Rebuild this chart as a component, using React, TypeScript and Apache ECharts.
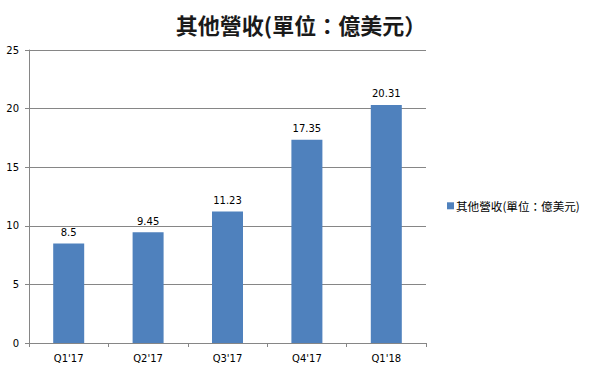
import React, { useEffect, useRef } from "react";
import * as echarts from "echarts";

const categories = ["Q1'17", "Q2'17", "Q3'17", "Q4'17", "Q1'18"];
const values = [8.5, 9.45, 11.23, 17.35, 20.31];
const seriesName = "其他營收(單位：億美元)";
const titleText = "其他營收(單位：億美元）";

export default function App() {
  const ref = useRef<HTMLDivElement>(null);
  useEffect(() => {
    if (!ref.current) return;
    const chart = echarts.init(ref.current, null, { renderer: "svg" });
    chart.setOption({
      animation: false,
      backgroundColor: "#ffffff",
      title: {
        text: titleText,
        left: 296,
        textAlign: "center",
        top: 8,
        textStyle: {
          fontSize: 22,
          fontWeight: "bold",
          color: "#1a1a1a",
          fontFamily: "Noto Sans CJK TC",
        },
      },
      legend: {
        data: [seriesName],
        left: 442,
        top: 195,
        itemWidth: 7,
        itemHeight: 7,
        itemGap: 2,
        icon: "rect",
        textStyle: {
          fontSize: 11.6,
          color: "#000",
          fontFamily: "Noto Sans CJK TC",
          padding: [0, 0, 0, -3],
        },
      },
      grid: { left: 29, right: 174, top: 50, bottom: 31, containLabel: false },
      xAxis: {
        type: "category",
        data: categories,
        axisLine: { show: true, lineStyle: { color: "#868686" } },
        axisTick: { show: true, alignWithLabel: false, length: 4, lineStyle: { color: "#868686" } },
        axisLabel: {
          color: "#000",
          fontSize: 10,
          fontFamily: "DejaVu Sans",
          margin: 10,
        },
      },
      yAxis: {
        type: "value",
        min: 0,
        max: 25,
        interval: 5,
        axisLine: { show: true, lineStyle: { color: "#868686" } },
        axisTick: { show: true, length: 4, lineStyle: { color: "#868686" } },
        splitLine: { show: true, lineStyle: { color: "#868686" } },
        axisLabel: {
          color: "#000",
          fontSize: 10,
          fontFamily: "DejaVu Sans",
          margin: 10,
        },
      },
      series: [
        {
          name: seriesName,
          type: "bar",
          data: values,
          barWidth: 31,
          itemStyle: { color: "#4F81BD" },
          label: {
            show: true,
            position: "top",
            distance: 6,
            color: "#000",
            fontSize: 10,
            fontFamily: "DejaVu Sans",
          },
        },
      ],
    });
    return () => chart.dispose();
  }, []);
  return (
    <div
      ref={ref}
      style={{ position: "absolute", left: 0, top: 0, width: 600, height: 374 }}
    />
  );
}
